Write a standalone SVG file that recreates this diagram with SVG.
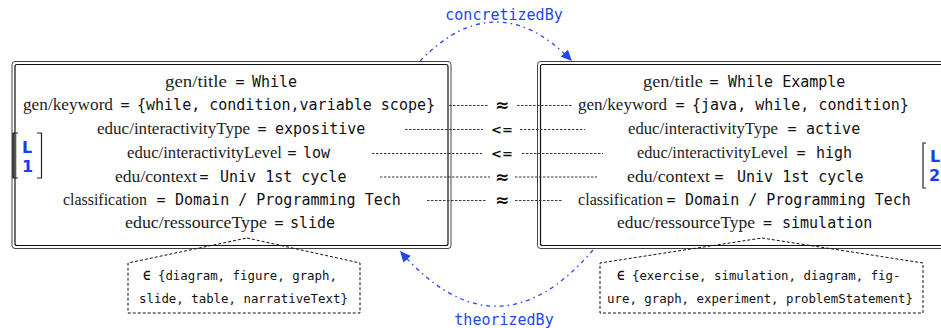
<svg xmlns="http://www.w3.org/2000/svg" width="941" height="328" viewBox="0 0 941 328">
<style>
.k{font-family:"Liberation Serif",serif;font-size:16.5px;fill:#222}
.v{font-family:"DejaVu Sans Mono",monospace;font-size:15px;fill:#111}
.eq{font-family:"DejaVu Sans Mono",monospace;font-size:15px;fill:#111;text-anchor:middle}
.rel{font-family:"DejaVu Sans",sans-serif;font-weight:bold;font-size:13px;text-anchor:middle;fill:#111}
.ap{font-size:17px}
.cmp{stroke:#222;stroke-width:0.9;stroke-dasharray:2.5 1.5;fill:none}
.fo{fill:none;stroke:#444;stroke-width:1}
.fi{fill:none;stroke:#111;stroke-width:1.2}
.enum{fill:none;stroke:#111;stroke-width:1;stroke-dasharray:3 2}
.et{font-family:"DejaVu Sans Mono",monospace;font-size:12.4px;fill:#111}
.blue{stroke:#2346f0;stroke-width:1.3;fill:none;stroke-dasharray:4 4 1.5 4}
.bl{font-family:"DejaVu Sans Mono",monospace;font-size:15px;fill:#2346f0;text-anchor:middle}
.lab{font-family:"DejaVu Sans",sans-serif;font-weight:bold;font-size:16px;fill:#1a3cf0}
.br{fill:none;stroke:#222;stroke-width:1.2}
</style>
<defs>
<marker id="ah" markerWidth="12" markerHeight="10" refX="11" refY="5" orient="auto" markerUnits="userSpaceOnUse">
<path d="M0,0 L11,5 L0,10 Z" fill="#2346f0"/>
</marker>
</defs>

<g id="node-L1">
<rect class="fo" x="12" y="61.5" width="439" height="187" rx="3"/>
<rect class="fi" x="15" y="64.5" width="433" height="181" rx="2"/>
<text class="k" x="165" y="87" textLength="62" lengthAdjust="spacingAndGlyphs">gen/title</text><text class="eq" x="240" y="87">=</text><text class="v" x="252" y="87">While</text>
<text class="k" x="23" y="110" textLength="90" lengthAdjust="spacingAndGlyphs">gen/keyword</text><text class="eq" x="125" y="110">=</text><text class="v" x="137" y="110">{while, condition,variable scope}</text>
<text class="k" x="97" y="134" textLength="153" lengthAdjust="spacingAndGlyphs">educ/interactivityType</text><text class="eq" x="262" y="134">=</text><text class="v" x="275" y="134">expositive</text>
<text class="k" x="127" y="158" textLength="155" lengthAdjust="spacingAndGlyphs">educ/interactivityLevel</text><text class="eq" x="292" y="158">=</text><text class="v" x="303" y="158">low</text>
<text class="k" x="115" y="182" textLength="82" lengthAdjust="spacingAndGlyphs">edu/context</text><text class="eq" x="204" y="182">=</text><text class="v" x="220" y="182">Univ 1st cycle</text>
<text class="k" x="63" y="205" textLength="84" lengthAdjust="spacingAndGlyphs">classification</text><text class="eq" x="161" y="205">=</text><text class="v" x="175" y="205">Domain / Programming Tech</text>
<text class="k" x="125" y="228" textLength="142" lengthAdjust="spacingAndGlyphs">educ/ressourceType</text><text class="eq" x="279" y="228">=</text><text class="v" x="290" y="228">slide</text>
<rect x="12.5" y="133" width="3.8" height="45" fill="#555"/>
<path class="br" d="M18,133 H13 V178 H18"/>
<path class="br" d="M37,133 H41.5 V178 H37"/>
<text class="lab" x="22" y="153">L</text>
<text class="lab" x="22" y="172">1</text>
</g>

<g id="node-L2">
<rect class="fo" x="537.5" y="61.5" width="420" height="187" rx="3"/>
<rect class="fi" x="540.5" y="64.5" width="414" height="181" rx="2"/>
<text class="k" x="643" y="87" textLength="60" lengthAdjust="spacingAndGlyphs">gen/title</text><text class="eq" x="714" y="87">=</text><text class="v" x="728" y="87">While Example</text>
<text class="k" x="578" y="110" textLength="89" lengthAdjust="spacingAndGlyphs">gen/keyword</text><text class="eq" x="680" y="110">=</text><text class="v" x="692" y="110">{java, while, condition}</text>
<text class="k" x="628" y="134" textLength="150" lengthAdjust="spacingAndGlyphs">educ/interactivityType</text><text class="eq" x="792" y="134">=</text><text class="v" x="806" y="134">active</text>
<text class="k" x="637" y="158" textLength="151" lengthAdjust="spacingAndGlyphs">educ/interactivityLevel</text><text class="eq" x="801" y="158">=</text><text class="v" x="816" y="158">high</text>
<text class="k" x="627" y="182" textLength="83" lengthAdjust="spacingAndGlyphs">edu/context</text><text class="eq" x="719" y="182">=</text><text class="v" x="737" y="182">Univ 1st cycle</text>
<text class="k" x="578" y="205" textLength="85" lengthAdjust="spacingAndGlyphs">classification</text><text class="eq" x="671" y="205">=</text><text class="v" x="685" y="205">Domain / Programming Tech</text>
<text class="k" x="617" y="228" textLength="138" lengthAdjust="spacingAndGlyphs">educ/ressourceType</text><text class="eq" x="767.5" y="228">=</text><text class="v" x="782" y="228">simulation</text>
<path class="br" d="M926,143 H923 V188 H926"/>
<text class="lab" x="930" y="162">L</text>
<text class="lab" x="929" y="181">2</text>
</g>

<g id="node-enum1">
<path class="enum" d="M247,238 L360,263 L360,313 L128,313 L128,263 Z"/>
<text class="et" x="143" y="280"><tspan font-weight="bold">∈</tspan> {diagram, figure, graph,</text>
<text class="et" x="139" y="303">slide, table, narrativeText}</text>
</g>

<g id="node-enum2">
<path class="enum" d="M762,238 L923,263 L923,313 L600,313 L600,263 Z"/>
<text class="et" x="617" y="280"><tspan font-weight="bold">∈</tspan> {exercise, simulation, diagram, fig-</text>
<text class="et" x="607" y="303">ure, graph, experiment, problemStatement}</text>
</g>

<g id="connectors">
<path class="cmp" d="M449,105.5 H488 M517,105.5 H572"/>
<path class="cmp" d="M405,129.5 H483 M520,129.5 H585"/>
<path class="cmp" d="M372,153.5 H482 M522,153.5 H603"/>
<path class="cmp" d="M380,177 H490 M515,177 H597"/>
<path class="cmp" d="M427,200.5 H487 M515,200.5 H563"/>
<text class="rel ap" x="502" y="111">≈</text>
<text class="rel" x="502" y="134">&lt;=</text>
<text class="rel" x="502" y="158">&lt;=</text>
<text class="rel ap" x="502" y="183">≈</text>
<text class="rel ap" x="502" y="206">≈</text>
<path class="blue" d="M420,61 Q496,-17 572,61" marker-end="url(#ah)"/>
<text class="bl" x="504" y="20">concretizedBy</text>
<path class="blue" d="M593,250 Q497,362 400,251" marker-end="url(#ah)"/>
<text class="bl" x="504" y="325">theorizedBy</text>
</g>
</svg>
